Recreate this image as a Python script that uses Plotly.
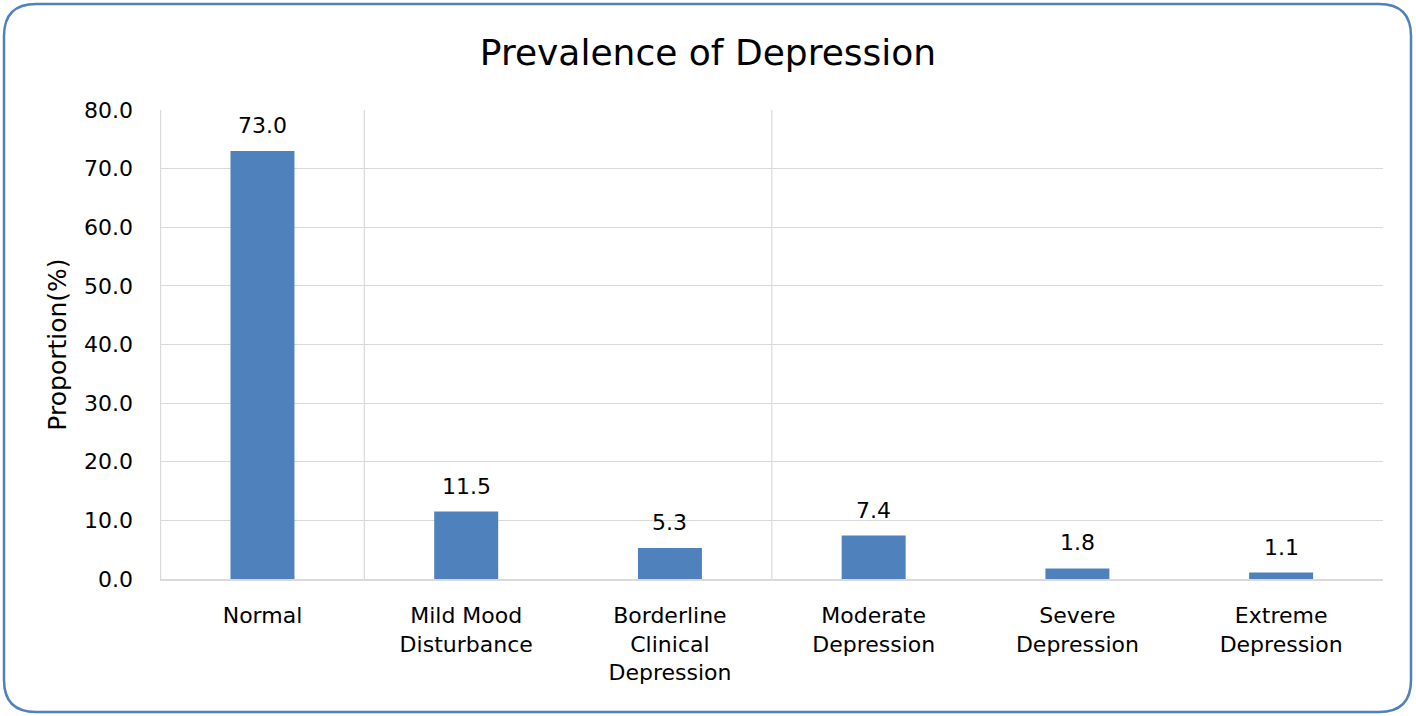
import plotly.graph_objects as go

categories = ["Normal", "Mild Mood<br>Disturbance", "Borderline<br>Clinical<br>Depression",
              "Moderate<br>Depression", "Severe<br>Depression", "Extreme<br>Depression"]
proportions = [73.0, 11.5, 5.3, 7.4, 1.8, 1.1]
y_ticks = [0, 10, 20, 30, 40, 50, 60, 70, 80]

W, H = 1416, 716
L, R, T, B = 160, 1383, 110, 579
FONT = "DejaVu Sans"

def px(x):
    return (x - L) / (R - L)

def py(y):
    return (B - y) / (B - T)

fig = go.Figure(go.Bar(
    x=categories, y=proportions, width=0.314,
    marker=dict(color="#4F81BD", line=dict(width=0)),
))

# data labels
for c, v in zip(categories, proportions):
    fig.add_annotation(x=c, y=v, text=f"{v:.1f}", showarrow=False,
                       xanchor="center", yanchor="bottom", yshift=11,
                       font=dict(family=FONT, size=22, color="#000000"))

shapes = []
# vertical gridlines seen in the reference at category boundaries
for xb in [-0.5, 0.5, 2.5]:
    shapes.append(dict(type="line", xref="x", yref="y", x0=xb, x1=xb, y0=0, y1=80,
                       line=dict(color="#D9D9D9", width=1.2), layer="below"))

# rounded outer border
x0, y0, x1, y1, r = 4, 4, 1411, 712, 32
path = (f"M {px(x0 + r)},{py(y0)} L {px(x1 - r)},{py(y0)} "
        f"Q {px(x1)},{py(y0)} {px(x1)},{py(y0 + r)} "
        f"L {px(x1)},{py(y1 - r)} Q {px(x1)},{py(y1)} {px(x1 - r)},{py(y1)} "
        f"L {px(x0 + r)},{py(y1)} Q {px(x0)},{py(y1)} {px(x0)},{py(y1 - r)} "
        f"L {px(x0)},{py(y0 + r)} Q {px(x0)},{py(y0)} {px(x0 + r)},{py(y0)} Z")
shapes.append(dict(type="path", xref="paper", yref="paper", path=path,
                   line=dict(color="#4F81BD", width=2.5), layer="above"))

fig.update_layout(
    width=W, height=H,
    margin=dict(l=L, r=W - R, t=T, b=H - B),
    paper_bgcolor="white", plot_bgcolor="white",
    showlegend=False,
    title=dict(text="Prevalence of Depression", x=0.5, xref="container", xanchor="center",
               y=1 - 52 / H, yanchor="middle",
               font=dict(family=FONT, size=36, color="#000000")),
    font=dict(family=FONT, color="#000000"),
    shapes=shapes,
    xaxis=dict(showgrid=False, showline=True, linecolor="#D9D9D9", linewidth=1.5,
               ticks="", tickfont=dict(family=FONT, size=22, color="#000000"),
               ticklabelstandoff=16),
    yaxis=dict(range=[0, 80], tickvals=y_ticks, tickformat=".1f",
               showgrid=True, gridcolor="#D9D9D9", gridwidth=1.2,
               zeroline=False, showline=False, ticks="",
               ticklabelstandoff=26,
               tickfont=dict(family=FONT, size=22, color="#000000"),
               title=dict(text="Proportion(%)", standoff=10,
                          font=dict(family=FONT, size=25, color="#000000"))),
)

fig.write_html("out.html", config={"displayModeBar": False},
               post_script="document.body.style.margin='0px';")
